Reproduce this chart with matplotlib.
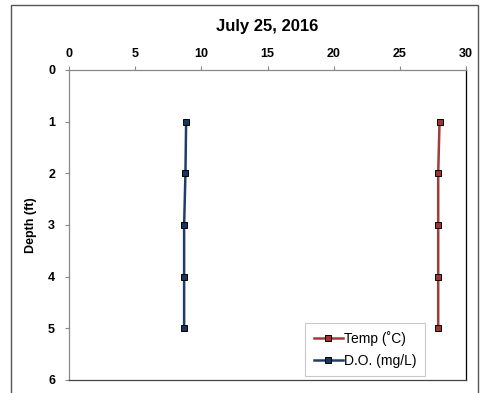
import matplotlib
matplotlib.use('Agg')
import matplotlib.pyplot as plt
from matplotlib.patches import Rectangle

plt.rcParams['font.family'] = ['Liberation Sans', 'DejaVu Sans']

depth = [1, 2, 3, 4, 5]
temp = [28.0, 27.9, 27.9, 27.9, 27.9]
do = [8.85, 8.8, 8.7, 8.7, 8.7]
xticks = [0, 5, 10, 15, 20, 25, 30]
yticks = [0, 1, 2, 3, 4, 5, 6]

fig = plt.figure(figsize=(4.8, 3.93), dpi=100)
ax = fig.add_axes([69/480, 1 - 380/393, (466 - 69)/480, (380 - 70)/393])

# outer chart frame
fig.patches.append(Rectangle((11/480, -0.05), 467/480, 1 - 5/393 + 0.05,
                             transform=fig.transFigure, fill=False,
                             edgecolor='#555555', linewidth=1.0))

ax.plot(temp, depth, color='#A03C3A', lw=1.8, marker='s', ms=5,
        mfc='#9B3533', mec='black', mew=0.7, label='Temp (˚C)')
ax.plot(do, depth, color='#1F3F68', lw=1.8, marker='s', ms=5,
        mfc='#17375E', mec='black', mew=0.7, label='D.O. (mg/L)')

ax.set_xlim(0, 30)
ax.set_ylim(6, 0)
ax.set_xticks(xticks)
ax.set_yticks(yticks)
ax.xaxis.tick_top()
ax.tick_params(axis='both', colors='#888888', labelcolor='black', length=3,
               width=0.8, labelsize=9)
for lab in ax.get_xticklabels() + ax.get_yticklabels():
    lab.set_fontweight('bold')
ax.tick_params(axis='x', pad=4)
ax.tick_params(axis='y', pad=7)

ax.spines['left'].set_color('#888888')
ax.spines['top'].set_color('#888888')
ax.spines['right'].set_color('black')
ax.spines['bottom'].set_color('#444444')
for s in ax.spines.values():
    s.set_linewidth(0.9)

ax.set_ylabel('Depth (ft)', fontsize=9, fontweight='bold')
ax.yaxis.set_label_coords((37 - 69) / 397, 0.5)
fig.text(0.5 * (69 + 466) / 480, 1 - 27/393, 'July 25, 2016', ha='center',
         va='center', fontsize=12, fontweight='bold')

leg = ax.legend(loc='lower right', bbox_to_anchor=((425 - 69)/397, (380 - 376)/310),
                fontsize=10, frameon=True, fancybox=False, handlelength=2.1,
                handletextpad=0.1, borderpad=0.6, labelspacing=0.55,
                borderaxespad=0)
leg.get_frame().set_edgecolor('#BBBBBB')
leg.get_frame().set_linewidth(0.8)

fig.savefig('out.png', dpi=100)
